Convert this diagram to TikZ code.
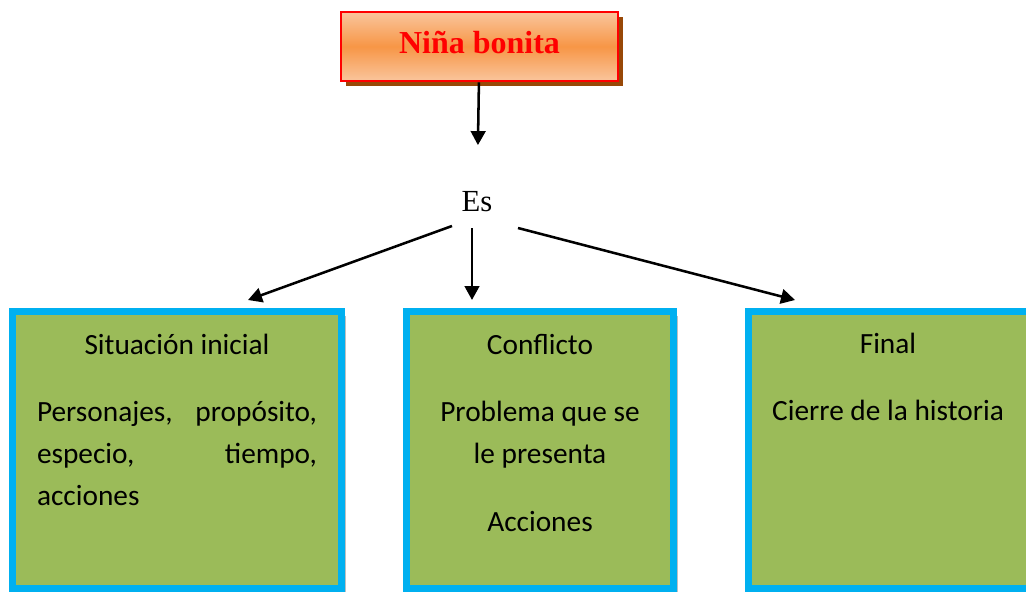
\documentclass[tikz,border=0pt]{standalone}
\usepackage{fontspec}
\setmainfont{Liberation Serif}
\newfontfamily\boxfont{Carlito}
\usetikzlibrary{arrows.meta, shadows}

\definecolor{boxblue}{HTML}{00B0F0}
\definecolor{boxgreen}{HTML}{9BBB59}
\definecolor{titleorange}{HTML}{F79646}
\definecolor{titlelight}{HTML}{FAC59C}
\definecolor{titleshadow}{HTML}{984807}

\tikzset{
    boxtext/.style={anchor=base, font=\boxfont\fontsize{22}{31.5}\selectfont},
}

\begin{document}
\begin{tikzpicture}[x=0.75pt, y=-0.75pt]
\useasboundingbox (0,0) rectangle (1026,592);
\clip (0,0) rectangle (1026,592);

\begin{scope}[every node/.style={rectangle, draw=boxblue, line width=5.25pt, fill=boxgreen,
              minimum height=207.75pt,
              drop shadow={shadow xshift=3.5pt, shadow yshift=-3.5pt, fill=black!25, opacity=1}}]
    \node (inicial) at (177, 450) [minimum width=246.75pt] {};
    \node (conflicto) at (540, 450) [minimum width=200.25pt] {};
    \node (final) at (890, 450) [minimum width=212.25pt] {};
\end{scope}

\node (nina) at (479.5, 46.5) [rectangle, draw=red, line width=2pt,
    minimum width=207.75pt, minimum height=51.75pt, text depth=6.75pt,
    top color=titlelight, bottom color=titlelight, middle color=titleorange,
    drop shadow={shadow xshift=3.5pt, shadow yshift=-3.5pt, fill=titleshadow, opacity=1},
    font=\bfseries\fontsize{24}{28}\selectfont, text=red] {Niña bonita};
\node (es) at (477, 202) [font=\fontsize{23}{27}\selectfont] {Es};

% texts in the boxes
\node (titini) at (177, 354) [boxtext] {Situación inicial};
\node (txtini) at (177, 421) [boxtext, text width=210pt, align=left]
    {Personajes,\hfill propósito,\\ especio,\hfill tiempo,\\ acciones};
\node (titcon) at (540, 354) [boxtext] {Conflicto};
% base = last line here
\node (txtcon) at (540, 463) [boxtext, align=center] {Problema que se\\ le presenta};
\node (acccon) at (540, 531) [boxtext] {Acciones};
\node (titfin) at (888, 353) [boxtext] {Final};
\node (txtfin) at (888, 420) [boxtext] {Cierre de la historia};

\begin{scope}[>={Triangle[width=11pt,length=10.5pt]},
              every edge/.style={draw=black, line width=1.9pt}]
    \path [->] (nina) edge [shorten >=31.5pt] (es);
    \path [->] ([shift={(-25,24)}]es.center) edge ([shift={(71,-8)}]inicial.north);
    \path [->] ([shift={(-5,26)}]es.center) edge ([shift={(-68,-8)}]conflicto.north);
    \path [->] ([shift={(41,26)}]es.center) edge ([shift={(-95,-8)}]final.north);
\end{scope}
\end{tikzpicture}
\end{document}
